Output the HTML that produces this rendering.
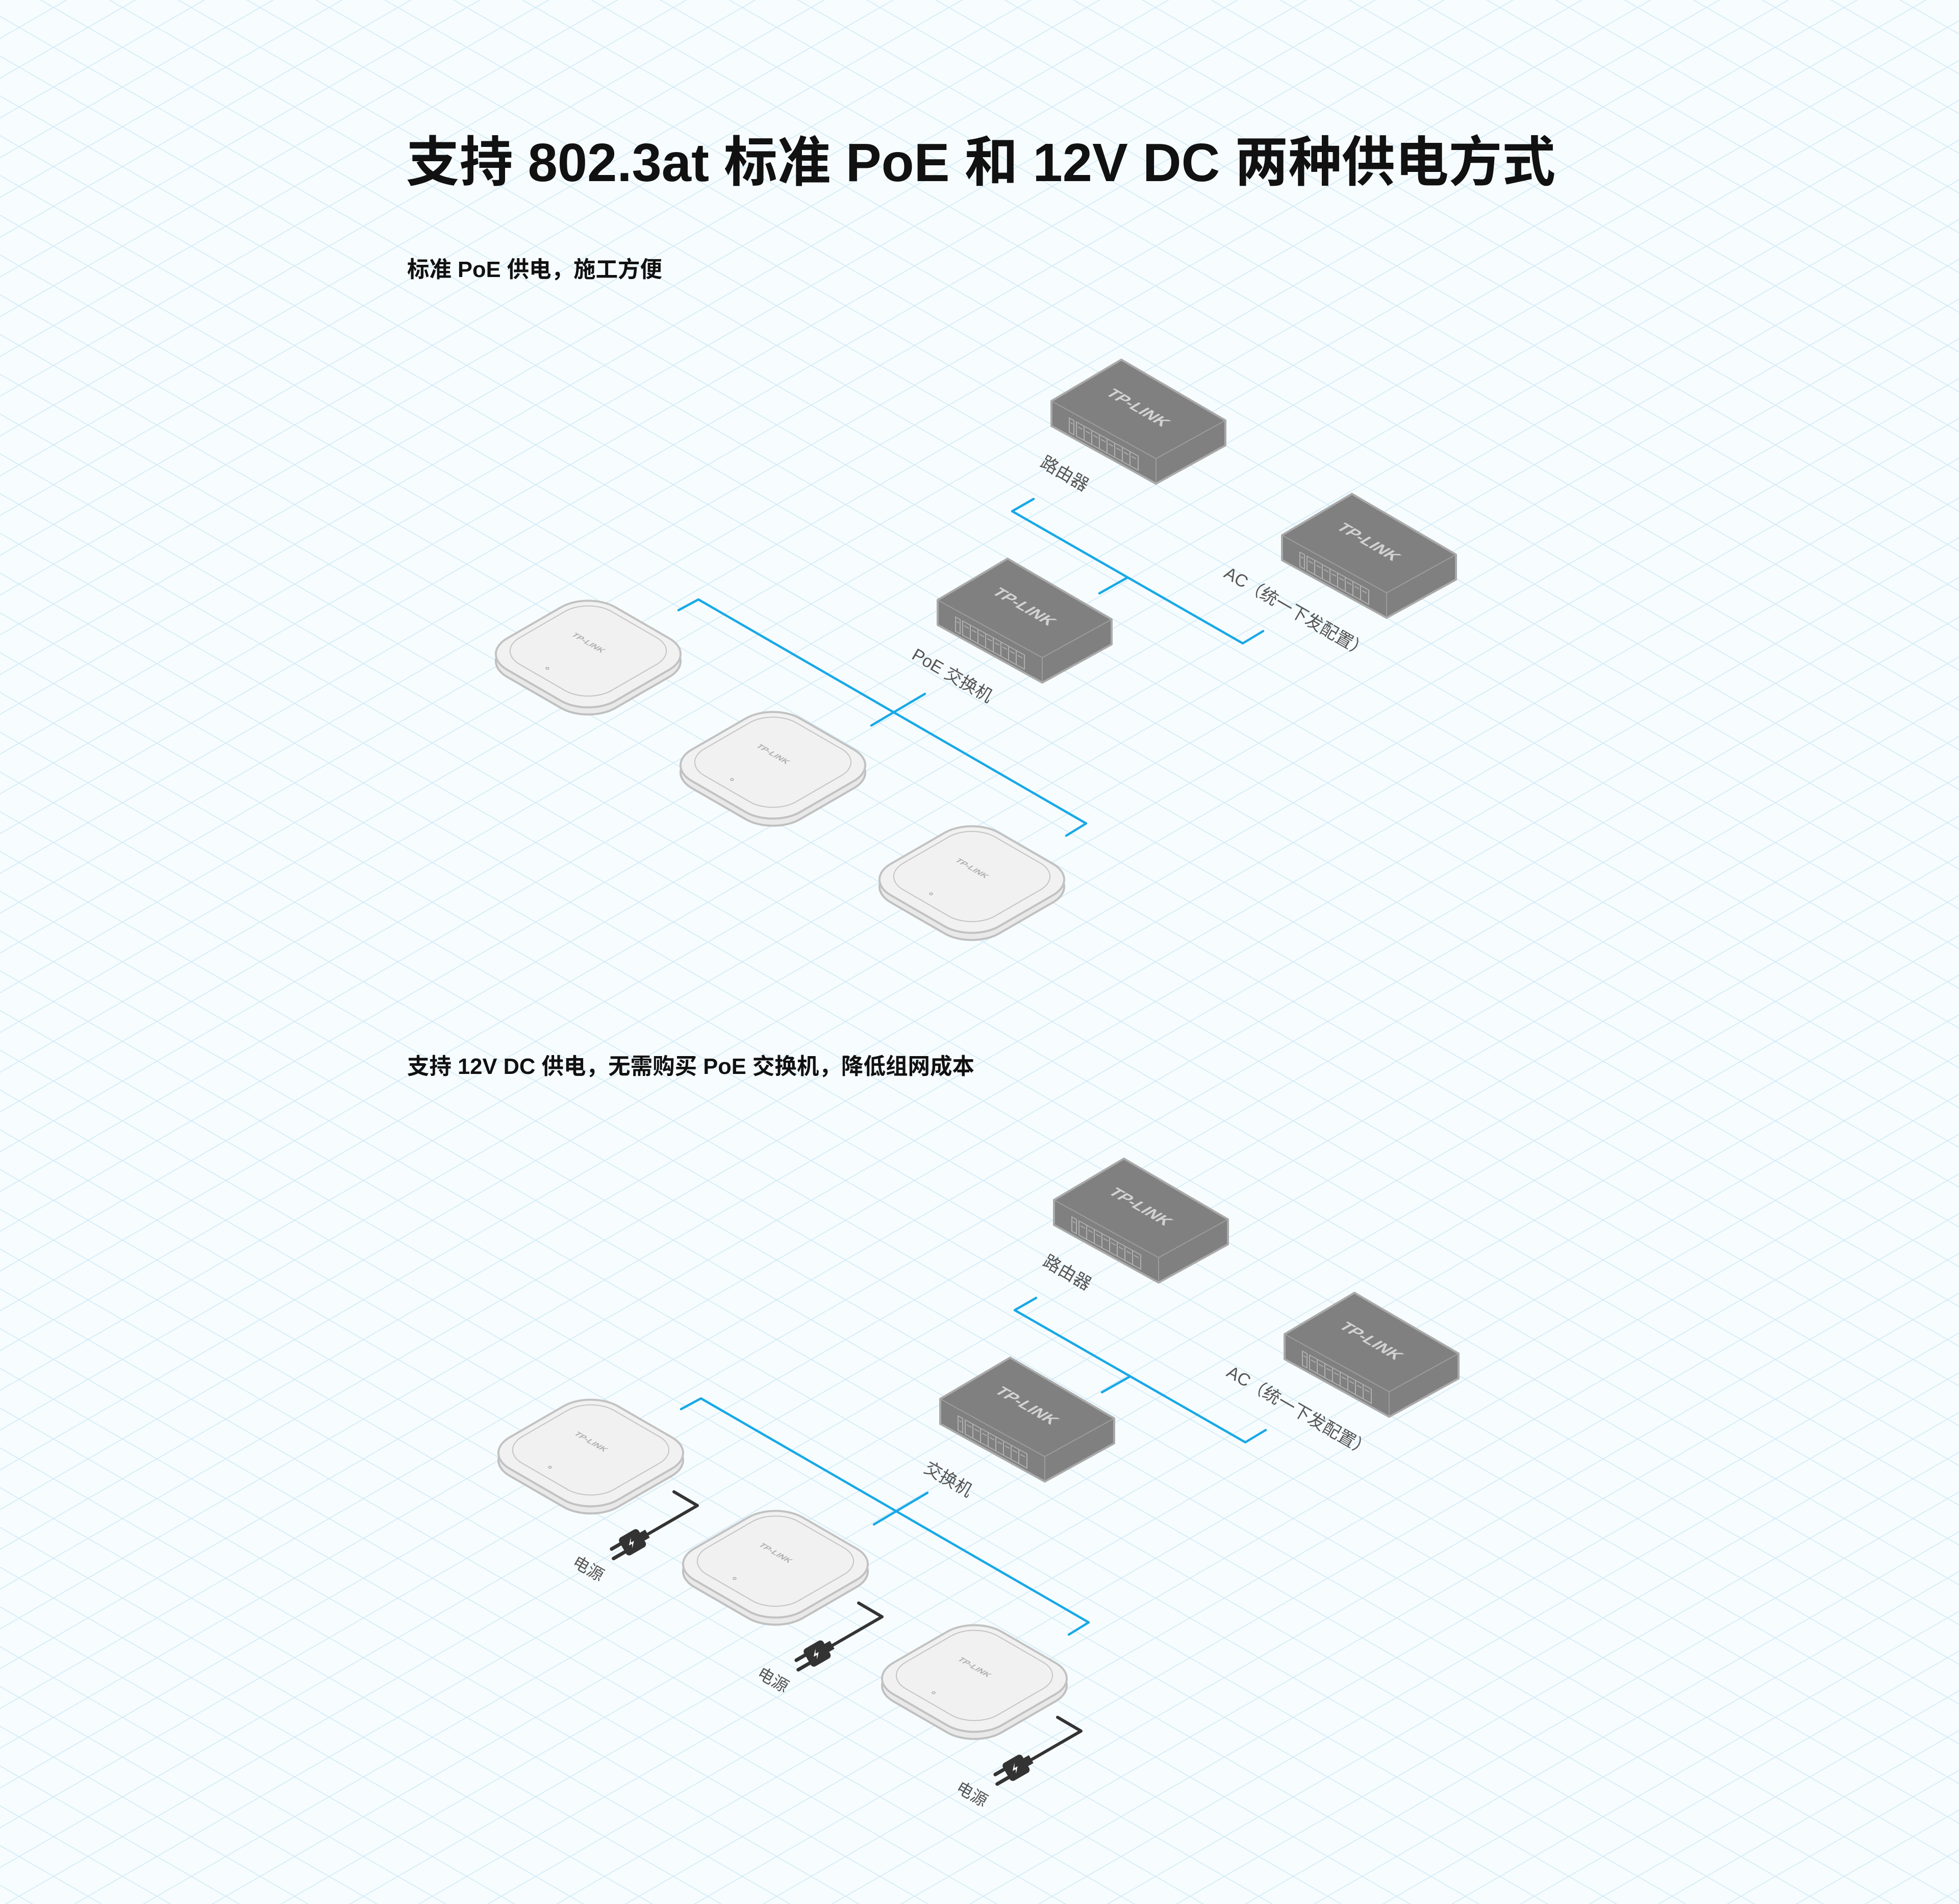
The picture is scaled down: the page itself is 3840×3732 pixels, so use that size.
<!DOCTYPE html>
<html><head><meta charset="utf-8"><style>
html,body{margin:0;padding:0;background:#f7fcfe;}
svg{display:block;}
text{font-family:"Liberation Sans","Noto Sans CJK SC",sans-serif;}
</style></head><body>
<svg width="3840" height="3732" viewBox="0 0 3840 3732" xmlns="http://www.w3.org/2000/svg">
<defs>
<pattern id="grid" width="135" height="77.94" patternUnits="userSpaceOnUse" patternTransform="translate(105,14.7)">
<path d="M0,0 L135,77.94 M0,77.94 L135,0" stroke="#cfeaf6" stroke-width="1.6" fill="none"/>
</pattern>
<g id="sw">
<polygon points="0,0 204,119 68,194 -137,81" fill="#808080"/>
<polygon points="-137,81 68,194 68,243 -137,130" fill="#808080"/>
<polygon points="68,194 204,119 204,168 68,243" fill="#808080"/>
<path d="M-137,81 L68,194 L204,119 M68,194 L68,243" stroke="#9c9c9c" stroke-width="2" fill="none"/>
<polygon points="0,0 204,119 204,168 68,243 -137,130 -137,81" fill="none" stroke="#a9a9a9" stroke-width="4" stroke-linejoin="round"/>
<g transform="matrix(1,0.551,0,1,-137,81)" fill="none" stroke="#b0b0b0" stroke-width="2">
<rect x="35" y="14" width="9" height="28"/>
<rect x="49" y="14" width="121" height="28"/>
<path d="M64,14 V42 M79,14 V42 M94,14 V42 M109,14 V42 M124,14 V42 M139,14 V42 M154,14 V42"/>
<path d="M52,22 h9 M67,22 h9 M82,22 h9 M97,22 h9 M112,22 h9 M127,22 h9 M142,22 h9 M157,22 h9 M37,22 h5"/>
</g>
<text transform="matrix(0.866,0.5,-0.866,0.5,33,94)" text-anchor="middle" y="11" font-size="32" font-weight="bold" fill="#d2d2d2" textLength="130" lengthAdjust="spacingAndGlyphs">TP-LINK</text>
</g>
<g id="ap">
<g transform="translate(0,14) scale(1,0.5774) rotate(45)"><rect x="-150" y="-150" width="300" height="300" rx="75" fill="#e9e9e9" stroke="#c0c0c0" stroke-width="4" vector-effect="non-scaling-stroke"/></g>
<g transform="scale(1,0.5774) rotate(45)"><rect x="-150" y="-150" width="300" height="300" rx="75" fill="#f1f1f1" stroke="#c2c2c2" stroke-width="4" vector-effect="non-scaling-stroke"/></g>
<g transform="translate(0,-6) scale(1,0.5774) rotate(45)"><rect x="-127" y="-127" width="254" height="254" rx="64" fill="none" stroke="#c4c4c4" stroke-width="2" vector-effect="non-scaling-stroke"/></g>
<text transform="matrix(0.866,0.5,-0.866,0.5,0,-22)" text-anchor="middle" y="5" font-size="16" font-weight="bold" fill="#b0b0b0" textLength="69" lengthAdjust="spacingAndGlyphs">TP-LINK</text>
<ellipse cx="-80" cy="28" rx="3" ry="2" fill="none" stroke="#aaa" stroke-width="1.5"/>
</g>
<g id="plug">
<polyline points="163,76 209,103 112,159" fill="none" stroke="#333" stroke-width="6" stroke-linecap="round" stroke-linejoin="round"/>
<g transform="translate(80,176) rotate(150)">
<rect x="-36" y="-9" width="14" height="18" fill="#333"/>
<rect x="-24" y="-20" width="44" height="40" rx="7" fill="#333"/>
<line x1="20" y1="-9" x2="46" y2="-9" stroke="#333" stroke-width="7" stroke-linecap="round"/>
<line x1="20" y1="9" x2="40" y2="9" stroke="#333" stroke-width="7" stroke-linecap="round"/>
<path d="M4,-10 L-6,1 L1,1 L-4,10 L7,-2 L0,-2 Z" fill="#fff"/>
</g>
<text transform="translate(-24,196) rotate(30)" y="28" font-size="32" fill="#555">电源</text>
</g>
<g id="lines" stroke="#18a9e6" stroke-width="4.5" fill="none" stroke-linecap="round" stroke-linejoin="round">
<polyline points="2026,978 1984,1002 2436,1261 2476,1237"/>
<line x1="2210" y1="1132" x2="2155" y2="1163"/>
<polyline points="1330,1196 1369,1175 2129,1614 2090,1638"/>
<line x1="1708" y1="1422" x2="1813" y2="1360"/>
</g>
</defs>
<rect width="3840" height="3732" fill="#f7fcfe"/>
<rect width="3840" height="3732" fill="url(#grid)"/>

<text x="796" y="355" font-size="106" font-weight="bold" fill="#111" textLength="2253" lengthAdjust="spacingAndGlyphs">支持 802.3at 标准 PoE 和 12V DC 两种供电方式</text>
<text x="798" y="543" font-size="44" font-weight="bold" fill="#111" textLength="500" lengthAdjust="spacingAndGlyphs">标准 PoE 供电，施工方便</text>
<text x="798" y="2105" font-size="44" font-weight="bold" fill="#111" textLength="1112" lengthAdjust="spacingAndGlyphs">支持 12V DC 供电，无需购买 PoE 交换机，降低组网成本</text>

<!-- Section 1 -->
<use href="#lines"/>
<use href="#sw" transform="translate(2198,705)"/>
<use href="#sw" transform="translate(2650,968)"/>
<use href="#sw" transform="translate(1975,1095)"/>
<use href="#ap" transform="translate(1153,1282)"/>
<use href="#ap" transform="translate(1515,1500)"/>
<use href="#ap" transform="translate(1905,1724)"/>
<g font-size="34" fill="#555">
<text transform="translate(2052,887) rotate(30)" y="30">路由器</text>
<text transform="translate(2412,1104) rotate(30)" y="30">AC（统一下发配置）</text>
<text transform="translate(1800,1264) rotate(30)" y="30">PoE 交换机</text>
</g>

<!-- Section 2 -->
<g transform="translate(5,1566)">
<use href="#lines"/>
<use href="#sw" transform="translate(2198,705)"/>
<use href="#sw" transform="translate(2650,968)"/>
<use href="#sw" transform="translate(1975,1095)"/>
<use href="#ap" transform="translate(1153,1282)"/>
<use href="#ap" transform="translate(1515,1500)"/>
<use href="#ap" transform="translate(1905,1724)"/>
<use href="#plug" transform="translate(1153,1282)"/>
<use href="#plug" transform="translate(1515,1500)"/>
<use href="#plug" transform="translate(1905,1724)"/>
<g font-size="34" fill="#555">
<text transform="translate(2052,887) rotate(30)" y="30">路由器</text>
<text transform="translate(2412,1104) rotate(30)" y="30">AC（统一下发配置）</text>
<text transform="translate(1819,1292) rotate(30)" y="30">交换机</text>
</g>
</g>
</svg>
</body></html>
